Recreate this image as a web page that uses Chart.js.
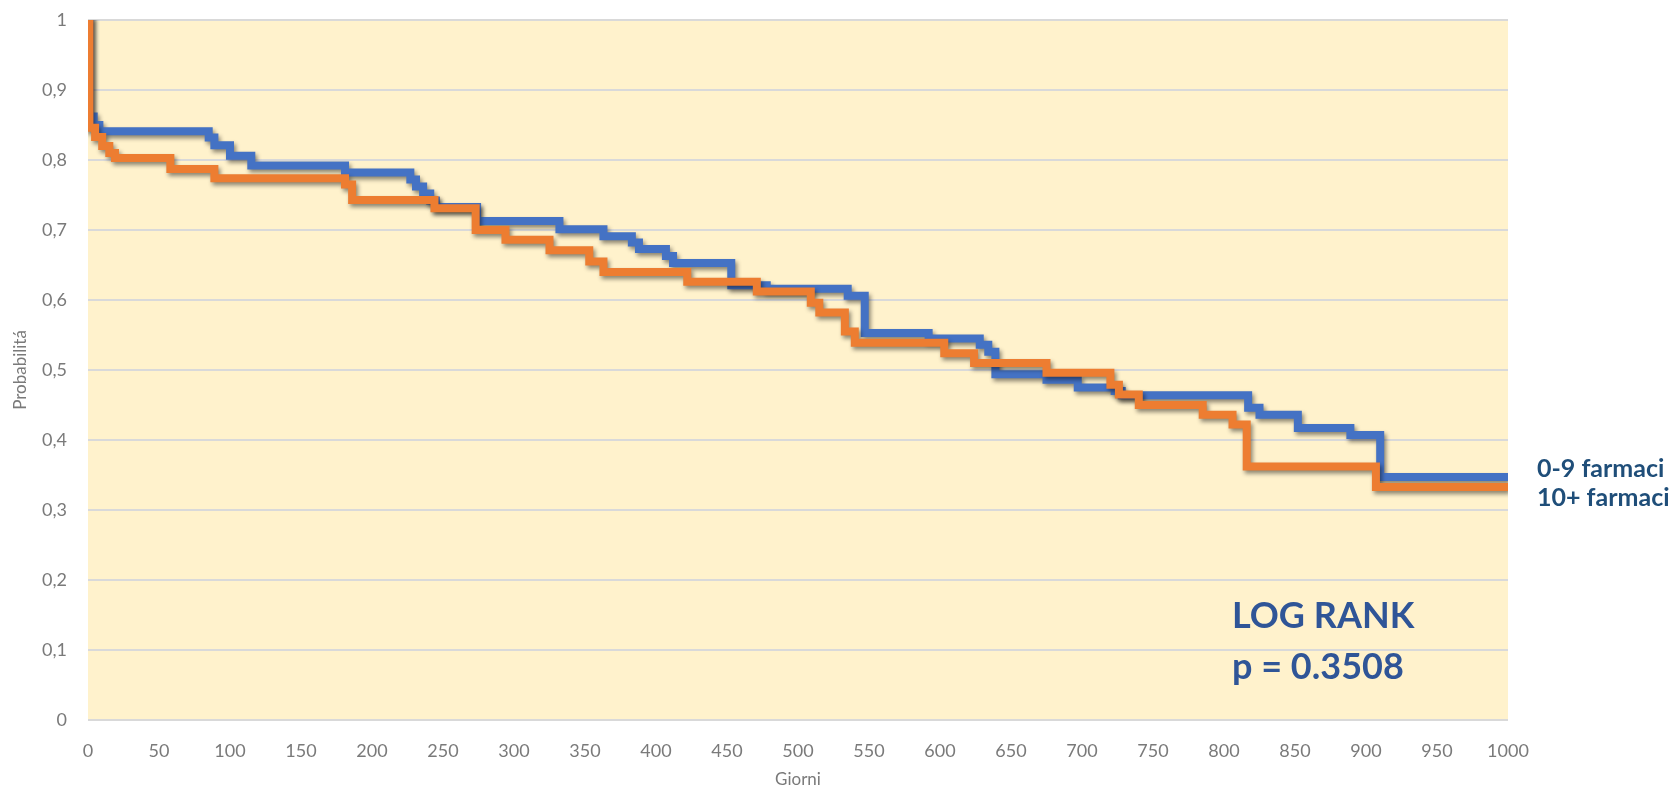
<!DOCTYPE html>
<html>
<head>
<meta charset="utf-8">
<script src="https://cdn.jsdelivr.net/npm/chart.js@4.4.1/dist/chart.umd.min.js"></script>
<style>
  html, body { margin: 0; padding: 0; background: #ffffff; }
</style>
</head>
<body>
<canvas id="kmChart" width="1677" height="790"></canvas>
<script>
// Kaplan-Meier curves: days of each step and survival after it
const days09 = [0, 1, 4, 8, 85, 89, 100, 115, 181, 227, 231, 236, 241, 245, 274, 332, 363, 383, 388, 407, 412, 453, 478, 535, 547, 592, 628, 634, 639, 675, 697, 723, 728, 817, 825, 852, 889, 910, 1000];
const surv09 = [1, 0.862, 0.85, 0.841, 0.832, 0.821, 0.806, 0.792, 0.782, 0.772, 0.762, 0.752, 0.742, 0.733, 0.713, 0.701, 0.691, 0.682, 0.673, 0.663, 0.653, 0.621, 0.616, 0.606, 0.553, 0.545, 0.536, 0.526, 0.494, 0.486, 0.475, 0.47, 0.464, 0.446, 0.436, 0.417, 0.407, 0.347, 0.347];

const days10 = [0, 1, 5, 10, 15, 19, 58, 89, 181, 186, 244, 273, 294, 325, 353, 363, 422, 471, 509, 515, 533, 540, 603, 624, 675, 720, 726, 740, 785, 806, 816, 907, 1000];
const surv10 = [1, 0.846, 0.833, 0.82, 0.81, 0.803, 0.787, 0.774, 0.765, 0.743, 0.731, 0.70, 0.686, 0.671, 0.655, 0.640, 0.626, 0.612, 0.596, 0.582, 0.555, 0.539, 0.524, 0.510, 0.496, 0.479, 0.465, 0.450, 0.436, 0.422, 0.362, 0.333, 0.333];

const seriesNames = ["0-9 farmaci", "10+ farmaci"];
const statLines = ["LOG RANK", "p = 0.3508"];

const FONT = "Lato, 'Open Sans', sans-serif";

function toPoints(days, surv) {
  return days.map((d, i) => ({ x: d, y: surv[i] }));
}

// ✅ yellow plot background
const plotBg = {
  id: "plotBg",
  beforeDraw(chart) {
    const { ctx, chartArea: a } = chart;
    ctx.save();
    ctx.fillStyle = "#FFF2CC";
    ctx.fillRect(a.left, a.top, a.right - a.left, a.bottom - a.top);
    ctx.restore();
  },
};

// ✅ soft shadow under the lines (like the Excel original)
const lineShadow = {
  id: "lineShadow",
  beforeDatasetsDraw(chart) {
    const ctx = chart.ctx;
    ctx.save();
    ctx.shadowColor = "rgba(0,0,0,0.45)";
    ctx.shadowBlur = 4;
    ctx.shadowOffsetX = 2;
    ctx.shadowOffsetY = 3;
  },
  afterDatasetsDraw(chart) {
    chart.ctx.restore();
  },
};

// ✅ series labels at the right and the log-rank note
const notes = {
  id: "notes",
  afterDraw(chart) {
    const { ctx, chartArea: a } = chart;
    ctx.save();
    ctx.textBaseline = "middle";
    ctx.textAlign = "left";
    ctx.fillStyle = "#1F4E79";
    ctx.font = "bold 25px " + FONT;
    ctx.fillText(seriesNames[0], a.right + 29, 469);
    ctx.fillText(seriesNames[1], a.right + 29, 498);

    ctx.fillStyle = "#2F5597";
    ctx.font = "bold 36px " + FONT;
    ctx.fillText(statLines[0], 1232, 616);
    ctx.fillText(statLines[1], 1232, 667);
    ctx.restore();
  },
};

let ctx = document.getElementById("kmChart").getContext("2d");

new Chart(ctx, {
  type: "line",
  data: {
    datasets: [
      {
        label: seriesNames[0],
        data: toPoints(days09, surv09),
        borderColor: "#4472C4",
        borderWidth: 8,
        stepped: "before",
        pointRadius: 0,
        fill: false,
        order: 1,
      },
      {
        label: seriesNames[1],
        data: toPoints(days10, surv10),
        borderColor: "#ED7D31",
        borderWidth: 8,
        stepped: "before",
        pointRadius: 0,
        fill: false,
        order: 0,
      },
    ],
  },
  options: {
    responsive: false,
    devicePixelRatio: 1,
    animation: false,
    layout: { padding: { top: 20, right: 169, left: 0, bottom: 0 } },
    plugins: {
      legend: { display: false },
      tooltip: { enabled: false },
    },
    scales: {
      x: {
        type: "linear",
        min: 0,
        max: 1000,
        grid: { display: false, drawTicks: false },
        border: { display: false },
        ticks: {
          stepSize: 50,
          autoSkip: false,
          maxRotation: 0,
          padding: 20,
          color: "#7A7A7A",
          font: { family: FONT, size: 18 },
          callback: (v) => String(v),
        },
        title: {
          display: true,
          text: "Giorni",
          color: "#7A7A7A",
          font: { family: FONT, size: 17 },
          padding: { top: 0, bottom: 0 },
        },
        afterFit: (s) => { s.height = 70; },
      },
      y: {
        min: 0,
        max: 1,
        grid: { color: "#D9D9D9", lineWidth: 2, drawTicks: false },
        border: { display: false },
        ticks: {
          stepSize: 0.1,
          padding: 21,
          color: "#7A7A7A",
          font: { family: FONT, size: 18 },
          callback: (v) => String(Math.round(v * 10) / 10).replace(".", ","),
        },
        title: {
          display: true,
          text: "Probabilitá",
          color: "#7A7A7A",
          font: { family: FONT, size: 17 },
          padding: { top: 10, bottom: 0 },
        },
        afterFit: (s) => {
          s.width = 88;
          s.paddingTop = 0;
          s.paddingBottom = 0;
        },
      },
    },
  },
  plugins: [plotBg, lineShadow, notes],
});
</script>
</body>
</html>
